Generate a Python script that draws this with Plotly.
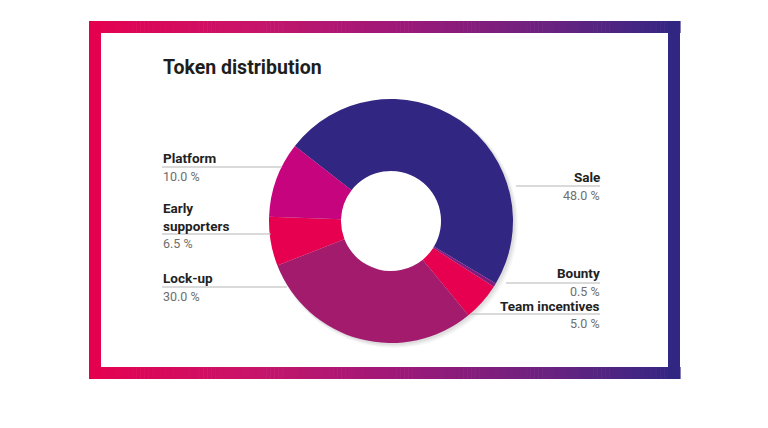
import plotly.graph_objects as go

W, H = 768, 428

labels = ["Sale", "Bounty", "Team incentives", "Lock-up", "Early supporters", "Platform"]
values = [48.0, 0.5, 5.0, 30.0, 6.5, 10.0]
colors = ["#312783", "#7E1C80", "#E6004F", "#A31B6D", "#E6004F", "#C5047E"]

def px(x):
    return x / W

def py(y):
    return 1 - y / H

cx, cy, R = 391, 221, 122
HOLE = 0.41

fig = go.Figure()
fig.add_trace(go.Pie(
    labels=labels, values=values, sort=False, direction="clockwise",
    rotation=-52, hole=HOLE, textinfo="none", hoverinfo="label+percent",
    marker=dict(colors=colors, line=dict(width=0)),
    domain=dict(x=[px(cx - R), px(cx + R)], y=[py(cy + R), py(cy - R)]),
    showlegend=False,
))

shapes = []
# soft shadow behind the donut
for k, op in [(5, 0.035), (3.5, 0.045), (2, 0.055)]:
    shapes.append(dict(type="circle", xref="paper", yref="paper",
                       x0=px(cx - R + 1), x1=px(cx + R + k), y0=py(cy + R + k), y1=py(cy - R + 1),
                       fillcolor="rgba(0,0,0,%.3f)" % op, line=dict(width=0), layer="below"))
r_in = R * HOLE + 1
shapes.append(dict(type="circle", xref="paper", yref="paper",
                   x0=px(cx - r_in), x1=px(cx + r_in), y0=py(cy + r_in), y1=py(cy - r_in),
                   fillcolor="white", line=dict(width=0), layer="below"))

# gradient border
stops = [(0.0, (229, 0, 79)), (0.27, (200, 20, 106)), (0.52, (158, 24, 120)),
         (0.78, (106, 34, 128)), (1.0, (49, 39, 131))]

def grad(t):
    for i in range(len(stops) - 1):
        t0, c0 = stops[i]
        t1, c1 = stops[i + 1]
        if t <= t1:
            f = (t - t0) / (t1 - t0)
            return "rgb(%d,%d,%d)" % tuple(round(c0[k] + (c1[k] - c0[k]) * f) for k in range(3))
    return "rgb(%d,%d,%d)" % stops[-1][1]

x0, x1, y0, y1, th = 89, 680, 21, 379, 12
N = 150
for i in range(N):
    a = x0 + (x1 - x0) * i / N
    b = x0 + (x1 - x0) * (i + 1) / N + 0.6
    c = grad((i + 0.5) / N)
    for (ya, yb) in [(y0, y0 + th), (y1 - th, y1)]:
        shapes.append(dict(type="rect", xref="paper", yref="paper",
                           x0=px(a), x1=px(b), y0=py(yb), y1=py(ya),
                           fillcolor=c, line=dict(width=0), layer="below"))
shapes.append(dict(type="rect", xref="paper", yref="paper", x0=px(x0), x1=px(x0 + th),
                   y0=py(y1), y1=py(y0), fillcolor=grad(0), line=dict(width=0), layer="below"))
shapes.append(dict(type="rect", xref="paper", yref="paper", x0=px(x1 - th), x1=px(x1),
                   y0=py(y1), y1=py(y0), fillcolor=grad(1), line=dict(width=0), layer="below"))

# leader lines (y, x_start, x_end)
left_lines = [(167, 162, 282), (234, 162, 271), (287, 162, 287)]
right_lines = [(186, 516, 600), (283, 506, 600), (314, 470, 600)]
for (y, a, b) in left_lines + right_lines:
    shapes.append(dict(type="line", xref="paper", yref="paper", x0=px(a), x1=px(b),
                       y0=py(y), y1=py(y), line=dict(color="#B5B5B5", width=1)))

annotations = []
FONT = "Roboto, Arial, sans-serif"

def name(text, x, y, anchor):
    annotations.append(dict(text="<b>%s</b>" % text, x=px(x), y=py(y), xref="paper", yref="paper",
                            xanchor=anchor, yanchor="middle", showarrow=False, align=anchor,
                            font=dict(family=FONT, size=13.5, color="#222222")))

def pct(v, x, y, anchor):
    annotations.append(dict(text="%.1f %%" % v, x=px(x), y=py(y), xref="paper", yref="paper",
                            xanchor=anchor, yanchor="middle", showarrow=False,
                            font=dict(family=FONT, size=12.5, color="#6E6E6E")))

# left side
name("Platform", 161, 158, "left"); pct(values[5], 161, 176, "left")
name("Early<br>supporters", 161, 217, "left"); pct(values[4], 161, 244, "left")
name("Lock-up", 161, 278, "left"); pct(values[3], 161, 296, "left")
# right side
name("Sale", 602, 177, "right"); pct(values[0], 602, 196, "right")
name("Bounty", 602, 273, "right"); pct(values[1], 602, 291, "right")
name("Team incentives", 602, 306, "right"); pct(values[2], 602, 323, "right")

annotations.append(dict(text="<b>Token distribution</b>", x=px(161), y=py(67), xref="paper", yref="paper",
                        xanchor="left", yanchor="middle", showarrow=False,
                        font=dict(family=FONT, size=19.5, color="#1E1E1E")))

fig.update_layout(
    width=W, height=H, margin=dict(l=0, r=0, t=0, b=0),
    paper_bgcolor="white", plot_bgcolor="white",
    shapes=shapes, annotations=annotations,
)

fig.write_html("out.html")
